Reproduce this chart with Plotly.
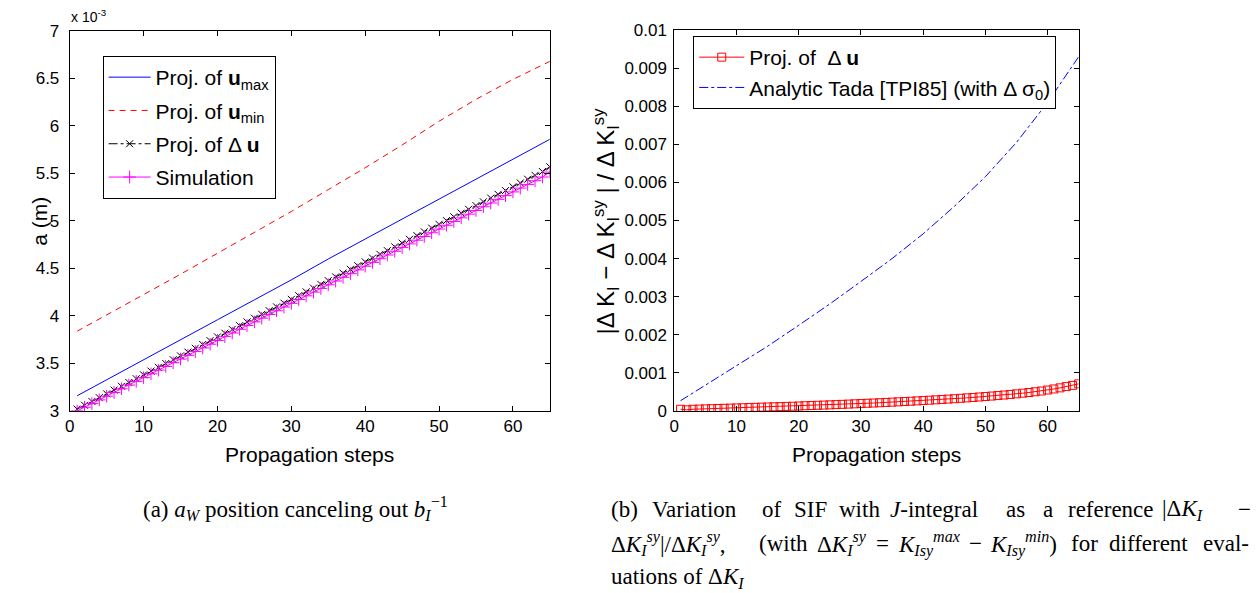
import plotly.graph_objects as go

W, H = 1256, 593
# empirical correction of the page-to-picture mapping
def px(x): return (x - 2) / W
def py(y): return 1 - ((y - 8) / 0.968) / H

# ---------------- data (left panel, a in units of 1e-3 m) ----------------
steps = list(range(1, 66))
line_steps = [1, 5, 10, 15, 20, 25, 30, 35, 40, 45, 50, 55, 60, 65]
u_max = [3.16, 3.33, 3.54, 3.75, 3.96, 4.17, 4.38, 4.60, 4.81, 5.02, 5.23, 5.44, 5.65, 5.86]
u_min = [3.84, 4.01, 4.23, 4.44, 4.66, 4.88, 5.10, 5.33, 5.56, 5.80, 6.05, 6.28, 6.49, 6.68]
du_a = [3.020, 3.060, 3.100, 3.140, 3.180, 3.220, 3.260, 3.300, 3.340, 3.380,
        3.420, 3.460, 3.500, 3.540, 3.580, 3.620, 3.660, 3.700, 3.740, 3.780,
        3.819, 3.859, 3.898, 3.938, 3.977, 4.017, 4.056, 4.096, 4.135, 4.175,
        4.214, 4.254, 4.293, 4.333, 4.372, 4.412, 4.451, 4.491, 4.530, 4.570,
        4.609, 4.649, 4.688, 4.728, 4.767, 4.807, 4.846, 4.886, 4.925, 4.965,
        5.004, 5.044, 5.083, 5.123, 5.162, 5.202, 5.241, 5.281, 5.320, 5.360,
        5.400, 5.440, 5.480, 5.520, 5.570]
sim_a = [3.000, 3.039, 3.078, 3.117, 3.156, 3.195, 3.234, 3.273, 3.312, 3.351,
         3.391, 3.430, 3.469, 3.508, 3.547, 3.586, 3.625, 3.664, 3.703, 3.742,
         3.782, 3.821, 3.860, 3.899, 3.938, 3.977, 4.016, 4.055, 4.094, 4.133,
         4.173, 4.212, 4.251, 4.290, 4.329, 4.368, 4.407, 4.446, 4.485, 4.524,
         4.564, 4.603, 4.642, 4.681, 4.720, 4.759, 4.798, 4.837, 4.876, 4.915,
         4.955, 4.994, 5.033, 5.072, 5.111, 5.150, 5.189, 5.228, 5.267, 5.306,
         5.346, 5.385, 5.424, 5.463, 5.515]

# ---------------- data (right panel) ----------------
du_err = [0.000045, 0.000030, 0.000045, 0.000050, 0.000055, 0.000060, 0.000065, 0.000070, 0.000075, 0.000080,
          0.000085, 0.000090, 0.000095, 0.000100, 0.000105, 0.000110, 0.000115, 0.000120, 0.000125, 0.000131,
          0.000137, 0.000143, 0.000149, 0.000155, 0.000161, 0.000167, 0.000174, 0.000181, 0.000188, 0.000195,
          0.000202, 0.000209, 0.000216, 0.000224, 0.000232, 0.000240, 0.000248, 0.000256, 0.000265, 0.000274,
          0.000283, 0.000292, 0.000302, 0.000312, 0.000322, 0.000333, 0.000344, 0.000355, 0.000367, 0.000379,
          0.000392, 0.000405, 0.000419, 0.000434, 0.000450, 0.000467, 0.000485, 0.000504, 0.000524, 0.000550,
          0.000578, 0.000607, 0.000640, 0.000672, 0.000712]
tada = [0.00027, 0.00068, 0.00118, 0.00170, 0.00225, 0.00281, 0.00340, 0.00400, 0.00465,
        0.00537, 0.00615, 0.00705, 0.00810, 0.00930]

xt = [0, 10, 20, 30, 40, 50, 60]
yt_left = [3, 3.5, 4, 4.5, 5, 5.5, 6, 6.5, 7]
yt_left_txt = ["3", "3.5", "4", "4.5", "5", "5.5", "6", "6.5", "7"]
yt_right = [0, 0.001, 0.002, 0.003, 0.004, 0.005, 0.006, 0.007, 0.008, 0.009, 0.01]
yt_right_txt = ["0", "0.001", "0.002", "0.003", "0.004", "0.005", "0.006", "0.007", "0.008", "0.009", "0.01"]

SANS = "Liberation Sans, Arial, Helvetica, sans-serif"
SERIF = "Liberation Serif, Times New Roman, serif"

fig = go.Figure()
fig.add_trace(go.Scatter(x=line_steps, y=u_max, mode="lines", name="Proj. of <b>u</b><sub>max</sub>",
                         line=dict(color="#0000FF", width=1), xaxis="x", yaxis="y",
                         legend="legend", legendgroup="g1"))
fig.add_trace(go.Scatter(x=line_steps, y=u_min, mode="lines", name="Proj. of <b>u</b><sub>min</sub>",
                         line=dict(color="#FF0000", width=1, dash="6px,5px"), xaxis="x", yaxis="y",
                         legend="legend", legendgroup="g2"))
fig.add_trace(go.Scatter(x=steps, y=du_a, mode="lines+markers", name="Proj. of Δ <b>u</b>",
                         line=dict(color="#000000", width=1, dash="dashdot"),
                         marker=dict(symbol="x-thin-open", size=7, line=dict(color="#000000", width=1)),
                         xaxis="x", yaxis="y", legend="legend", legendgroup="g3"))
fig.add_trace(go.Scatter(x=steps, y=sim_a, mode="lines+markers", name="Simulation",
                         line=dict(color="#FF00FF", width=1),
                         marker=dict(symbol="cross-thin-open", size=9, line=dict(color="#FF00FF", width=1)),
                         xaxis="x", yaxis="y", legend="legend", legendgroup="g4"))

fig.add_trace(go.Scatter(x=steps, y=du_err, mode="lines+markers", name="Proj. of  Δ <b>u</b>",
                         line=dict(color="#FF0000", width=1),
                         marker=dict(symbol="square-open", size=8, color="#FF0000", line=dict(color="#FF0000", width=1)),
                         xaxis="x2", yaxis="y2", legend="legend2"))
fig.add_trace(go.Scatter(x=line_steps, y=tada, mode="lines", name="Analytic Tada [TPI85] (with Δ σ<sub>0</sub>)",
                         line=dict(color="#0000FF", width=1, dash="dashdot"),
                         xaxis="x2", yaxis="y2", legend="legend2"))

axis_common = dict(showline=True, linecolor="black", linewidth=1, mirror="ticks", ticks="inside",
                   ticklen=5, tickcolor="black", showgrid=False, zeroline=False,
                   tickfont=dict(family=SANS, size=17, color="black"))

fig.update_layout(
    width=W, height=H, margin=dict(l=0, r=0, t=0, b=0),
    paper_bgcolor="white", plot_bgcolor="white",
    xaxis=dict(domain=[px(67), px(549)], range=[0, 65], tickvals=xt, anchor="y", **axis_common),
    yaxis=dict(domain=[py(410), py(30)], range=[3, 7], tickvals=yt_left, ticktext=yt_left_txt, anchor="x",
               ticklabelstandoff=6, **axis_common),
    xaxis2=dict(domain=[px(674), px(1080)], range=[0, 65], tickvals=xt, anchor="y2", **axis_common),
    yaxis2=dict(domain=[py(410), py(29)], range=[0, 0.01], tickvals=yt_right, ticktext=yt_right_txt, anchor="x2",
                ticklabelstandoff=3, **axis_common),
    legend=dict(x=px(100), y=py(55), xanchor="left", yanchor="top", bgcolor="white",
                bordercolor="black", borderwidth=1, font=dict(family=SANS, size=21, color="black"),
                tracegroupgap=3, traceorder="grouped", itemwidth=42),
    legend2=dict(x=px(693), y=py(35), xanchor="left", yanchor="top", bgcolor="white",
                 bordercolor="black", borderwidth=1, font=dict(family=SANS, size=21, color="black"),
                 itemwidth=45),
    showlegend=True,
)

ann = []
def add(text, x, y, size=18, family=SANS, angle=0, xanchor="center", yanchor="middle"):
    ann.append(dict(text=text, x=px(x), y=py(y), xref="paper", yref="paper", showarrow=False,
                    textangle=angle, xanchor=xanchor, yanchor=yanchor,
                    font=dict(family=family, size=size, color="black")))

add("x 10<sup>-3</sup>", 66, 15, size=14, xanchor="left")
add("a (m)", 37, 220, size=21, angle=-90)
add("Propagation steps", 308, 454, size=21)
add("Propagation steps", 877, 454, size=21)
add("|Δ K<sub>I</sub> − Δ K<sub>I</sub><sup>sy</sup> | / Δ K<sub>I</sub><sup>sy</sup>", 605, 220, size=24, angle=-90)

# captions
CAP = 23
add("(a) <i>a<sub>W</sub></i> position canceling out <i>b<sub>I</sub></i><sup>−1</sup>", 294, 508, size=CAP, family=SERIF)
line1 = [("(b)", 608), ("Variation", 650), ("of", 760), ("SIF", 792), ("with", 837), ("<i>J</i>-integral", 889),
         ("as", 1005), ("a", 1042), ("reference", 1067), ("|Δ<i>K<sub>I</sub></i>", 1162), ("−", 1238)]
for t, x in line1:
    add(t, x, 509, size=CAP, family=SERIF, xanchor="left")
line2 = [("Δ<i>K<sub>I</sub><sup>sy</sup></i>|/Δ<i>K<sub>I</sub><sup>sy</sup></i>,", 608), ("(with", 757),
         ("Δ<i>K<sub>I</sub><sup>sy</sup></i>", 815), ("=", 874), ("<i>K<sub>I</sub></i><sub><i>sy</i></sub><sup><i>max</i></sup>", 897),
         ("−", 968), ("<i>K<sub>I</sub></i><sub><i>sy</i></sub><sup><i>min</i></sup>)", 989), ("for", 1070),
         ("different", 1108), ("eval-", 1203)]
for t, x in line2:
    add(t, x, 543, size=CAP, family=SERIF, xanchor="left")
add("uations of Δ<i>K<sub>I</sub></i>", 608, 577, size=CAP, family=SERIF, xanchor="left")

fig.update_layout(annotations=ann)
fig.write_html("out.html", config={"displayModeBar": False},
               post_script="document.body.style.margin='0';document.body.style.padding='0';document.body.style.overflow='hidden';")
